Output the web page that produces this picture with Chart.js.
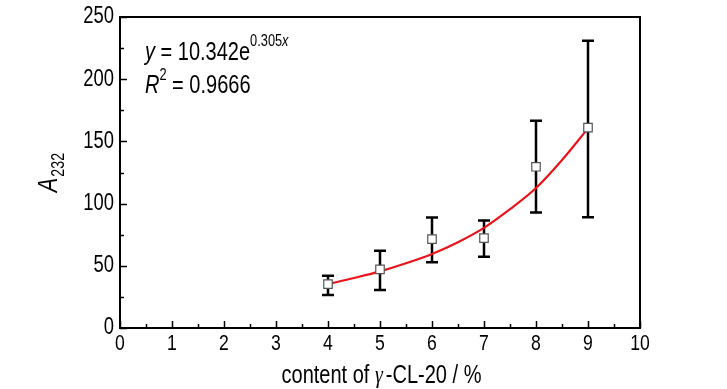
<!DOCTYPE html>
<html>
<head>
<meta charset="utf-8">
<script src="https://cdn.jsdelivr.net/npm/chart.js@4/dist/chart.umd.min.js"></script>
<style>
  html, body { margin: 0; padding: 0; background: #fff; }
  #wrap { width: 727px; height: 389px; }
</style>
</head>
<body>
<div id="wrap"><canvas id="chart" width="727" height="389"></canvas></div>
<script>
// Данные
const contentX = [4, 5, 6, 7, 8, 9];
const a232 = [35.3, 47.1, 71.5, 72.3, 129.6, 161];
const errHigh = [42, 62, 88.9, 86.5, 166.5, 231];
const errLow = [26.5, 30.5, 52.8, 57.3, 92.9, 89];

const fitX = [4, 4.5, 5, 5.5, 6, 6.5, 7, 7.5, 8, 8.5, 9];
const fitY = [35.3, 40.2, 45.5, 52, 59.5, 69, 80.5, 95.5, 112.5, 135, 160.5];

const xMin = 0, xMax = 10, xStep = 1;
const yMin = 0, yMax = 250, yStep = 50;

const fitLine1 = '10.342e';
const fitLine1Sup = '0.305';
const fitLine2 = '0.9666';

const FONT = "'Liberation Sans', Arial, sans-serif";
const SX = 0.8; // сжатие шрифта по горизонтали (узкий шрифт оригинала)

/**
 * Вывод узкого текста, возвращает ширину
 */
function narrowText(ctx, text, x, y, font, align) {
    ctx.font = font;
    const w = ctx.measureText(text).width * SX;
    let dx = 0;
    if (align === 'center') dx = -w / 2;
    if (align === 'right') dx = -w;
    ctx.save();
    ctx.textAlign = 'left';
    ctx.translate(x + dx, y);
    ctx.scale(SX, 1);
    ctx.fillText(text, 0, 0);
    ctx.restore();
    return w;
}

// Рамка, засечки внутрь, подписи и усы погрешностей
const framePlugin = {
    id: 'frame',
    beforeDatasetsDraw(chart) {
        const ctx = chart.ctx;
        const xs = chart.scales.x, ys = chart.scales.y;
        ctx.save();
        ctx.strokeStyle = '#000';
        ctx.lineWidth = 2.5;
        contentX.forEach((x, i) => {
            const px = xs.getPixelForValue(x);
            const top = ys.getPixelForValue(errHigh[i]);
            const bot = ys.getPixelForValue(errLow[i]);
            ctx.beginPath();
            ctx.moveTo(px, top); ctx.lineTo(px, bot);
            ctx.moveTo(px - 6, top); ctx.lineTo(px + 6, top);
            ctx.moveTo(px - 6, bot); ctx.lineTo(px + 6, bot);
            ctx.stroke();
        });
        ctx.restore();
    },
    afterDraw(chart) {
        const ctx = chart.ctx;
        const a = chart.chartArea;
        const xs = chart.scales.x, ys = chart.scales.y;
        ctx.save();
        ctx.strokeStyle = '#000';
        ctx.lineWidth = 2;
        ctx.strokeRect(a.left, a.top, a.right - a.left, a.bottom - a.top);

        ctx.lineWidth = 1.5;
        ctx.beginPath();
        for (let v = xMin; v <= xMax + 1e-9; v += xStep / 2) {
            const px = Math.round(xs.getPixelForValue(v)) + 0.5;
            const len = (Math.abs(v / xStep - Math.round(v / xStep)) < 1e-6) ? 7 : 4;
            ctx.moveTo(px, a.bottom); ctx.lineTo(px, a.bottom - len);
        }
        for (let v = yMin; v <= yMax + 1e-9; v += yStep / 2) {
            const py = Math.round(ys.getPixelForValue(v)) + 0.5;
            const len = (Math.abs(v / yStep - Math.round(v / yStep)) < 1e-6) ? 7 : 4;
            ctx.moveTo(a.left, py); ctx.lineTo(a.left + len, py);
        }
        ctx.stroke();

        // Подписи делений
        ctx.fillStyle = '#000';
        ctx.textBaseline = 'top';
        for (let v = xMin; v <= xMax; v += xStep) {
            narrowText(ctx, String(v), xs.getPixelForValue(v), a.bottom + 5, '22px ' + FONT, 'center');
        }
        ctx.textBaseline = 'middle';
        for (let v = yMin; v <= yMax; v += yStep) {
            narrowText(ctx, String(v), a.left - 6, ys.getPixelForValue(v), '23px ' + FONT, 'right');
        }

        // Подпись оси X
        ctx.textBaseline = 'alphabetic';
        const parts = [['content of ', '25px ' + FONT], ['\u03B3', 'italic 25px serif'], ['-CL-20 / %', '25px ' + FONT]];
        let total = 0;
        parts.forEach(p => { ctx.font = p[1]; total += ctx.measureText(p[0]).width * SX; });
        let cx = (a.left + a.right) / 2 - total / 2;
        parts.forEach((p, i) => { cx += narrowText(ctx, p[0], cx, 383, p[1], 'left') + (i === 1 ? 3 : 0); });

        // Подпись оси Y
        ctx.save();
        ctx.translate(57, 173);
        ctx.rotate(-Math.PI / 2);
        ctx.font = 'italic 27px ' + FONT;
        const wA = ctx.measureText('A').width * SX;
        ctx.font = '18px ' + FONT;
        const wS = ctx.measureText('232').width * SX;
        let sx = -(wA + wS) / 2;
        sx += narrowText(ctx, 'A', sx, 0, 'italic 27px ' + FONT, 'left');
        narrowText(ctx, '232', sx + 1, 7, '18px ' + FONT, 'left');
        ctx.restore();

        // Уравнение аппроксимации
        let tx = 145;
        tx += narrowText(ctx, 'y', tx, 60, 'italic 25px ' + FONT, 'left');
        tx += narrowText(ctx, ' = ' + fitLine1, tx, 60, '25px ' + FONT, 'left');
        tx += narrowText(ctx, fitLine1Sup, tx, 46, '16px ' + FONT, 'left');
        narrowText(ctx, 'x', tx, 46, 'italic 16px ' + FONT, 'left');

        tx = 145;
        tx += narrowText(ctx, 'R', tx, 93, 'italic 25px ' + FONT, 'left');
        tx += narrowText(ctx, '2', tx, 80, '16px ' + FONT, 'left');
        narrowText(ctx, ' = ' + fitLine2, tx, 93, '25px ' + FONT, 'left');
        ctx.restore();
    }
};

const ctx = document.getElementById('chart').getContext('2d');
const chart = new Chart(ctx, {
    type: 'scatter',
    data: {
        datasets: [{
            label: 'A232',
            data: contentX.map((x, i) => ({ x: x, y: a232[i] })),
            pointStyle: 'rect',
            pointRadius: 6,
            backgroundColor: '#fff',
            borderColor: '#555',
            borderWidth: 1.2,
            order: 0
        }, {
            type: 'line',
            label: 'fit',
            data: fitX.map((x, i) => ({ x: x, y: fitY[i] })),
            borderColor: '#e8141a',
            borderWidth: 2.2,
            pointRadius: 0,
            fill: false,
            tension: 0.35,
            order: 1
        }]
    },
    options: {
        responsive: false,
        animation: false,
        events: [],
        layout: { padding: { top: 17, right: 87, left: 0, bottom: 0 } },
        plugins: {
            legend: { display: false },
            tooltip: { enabled: false }
        },
        scales: {
            x: {
                type: 'linear',
                min: xMin,
                max: xMax,
                ticks: { display: false, stepSize: xStep },
                grid: { display: false },
                border: { display: false },
                afterFit(scale) { scale.height = 61; }
            },
            y: {
                type: 'linear',
                min: yMin,
                max: yMax,
                ticks: { display: false, stepSize: yStep },
                grid: { display: false },
                border: { display: false },
                afterFit(scale) { scale.width = 120; }
            }
        }
    },
    plugins: [framePlugin]
});
</script>
</body>
</html>
